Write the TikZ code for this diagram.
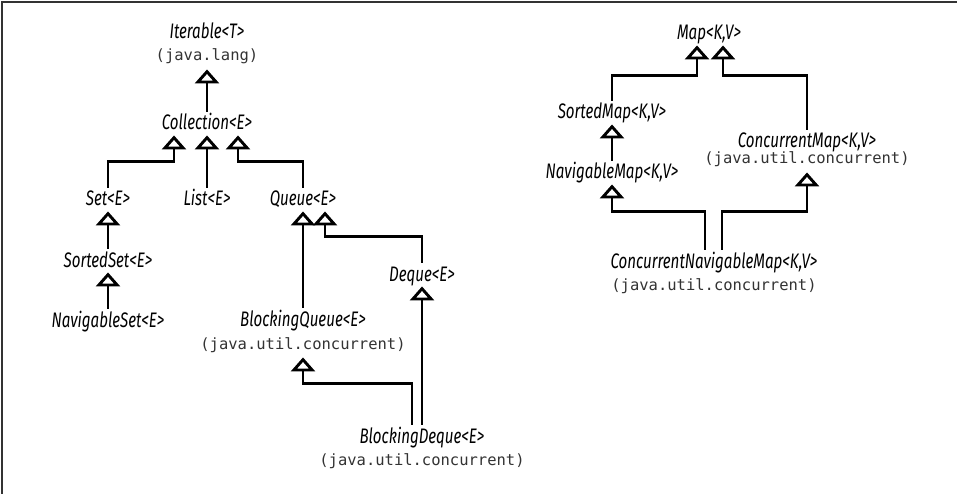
\documentclass[tikz,border=0pt]{standalone}
\usepackage{fontspec}
\newfontfamily\clsfont[FakeStretch=0.72]{Fira Sans}
\newfontfamily\pkgfont{DejaVu Sans Mono}
\usetikzlibrary{arrows.meta}

\begin{document}
\begin{tikzpicture}[x=1pt,y=-1pt,line width=2.9pt,
      cls/.style={anchor=base,inner xsep=1pt,inner ysep=4pt,text height=13pt,
        text depth=0pt,font={\clsfont\itshape\fontsize{21}{24}\selectfont}},
      pkg/.style={anchor=base,inner xsep=1pt,inner ysep=3pt,text height=12pt,
        text depth=4pt,text=black!80,font={\pkgfont\fontsize{15.5}{19}\selectfont}},
      inh/.style={-{Triangle[open,length=14pt,width=24pt]}}]
      \useasboundingbox(0,0)rectangle(957,494);
      \draw[line width=1.3pt,black!80](2,494)--(2,2)--(957,2);
      \node[cls](iter)at(207,39){Iterable<T>};
      \node[pkg](iterp)at(207,61){(java.lang)};
      \node[cls](coll)at(207,130){Collection<E>};
      \node[cls](set)at(108,206){Set<E>};
      \node[cls](list)at(207,206){List<E>};
      \node[cls](queue)at(303,206){Queue<E>};
      \node[cls](sset)at(108,267){SortedSet<E>};
      \node[cls](nset)at(108,327){NavigableSet<E>};
      \node[cls](deque)at(422,281){Deque<E>};
      \node[cls](bq)at(303,326){BlockingQueue<E>};
      \node[pkg](bqp)at(303,349){(java.util.concurrent)};
      \node[cls](bd)at(422,443){BlockingDeque<E>};
      \node[pkg](bdp)at(422,465){(java.util.concurrent)};
      \node[cls](map)at(709,40){Map<K,V>};
      \node[cls](smap)at(612,119){SortedMap<K,V>};
      \node[cls](nmap)at(612,179){NavigableMap<K,V>};
      \node[cls](cmap)at(807,148){ConcurrentMap<K,V>};
      \node[pkg](cmapp)at(807,164){(java.util.concurrent)};
      \node[cls](cnm)at(714,268){ConcurrentNavigableMap<K,V>};
      \node[pkg](cnmp)at(714,290){(java.util.concurrent)};
      \draw[inh](coll.north)--(iterp.south);
      \draw[inh](set.north)--++(0,-26)-|([xshift=-33pt]coll.south);
      \draw[inh](list.north)--(coll.south);
      \draw[inh](queue.north)--++(0,-26)-|([xshift=31pt]coll.south);
      \draw[inh](sset.north)--(set.south);
      \draw[inh](nset.north)--(sset.south);
      \draw[inh](bq.north)--(queue.south);
      \draw[inh](deque.north)--++(0,-26)-|([xshift=22pt]queue.south);
      \draw[inh]([xshift=-10pt]bd.north)--++(0,-41)-|(bqp.south);
      \draw[inh](bd.north)--(deque.south);
      \draw[inh](smap.north)--++(0,-25)-|([xshift=-12pt]map.south);
      \draw[inh](cmap.north)--++(0,-54)-|([xshift=14pt]map.south);
      \draw[inh](nmap.north)--(smap.south);
      \draw[inh]([xshift=-9pt]cnm.north)--++(0,-38)-|(nmap.south);
      \draw[inh]([xshift=8pt]cnm.north)--++(0,-38)-|(cmapp.south);
   \end{tikzpicture}
\end{document}
